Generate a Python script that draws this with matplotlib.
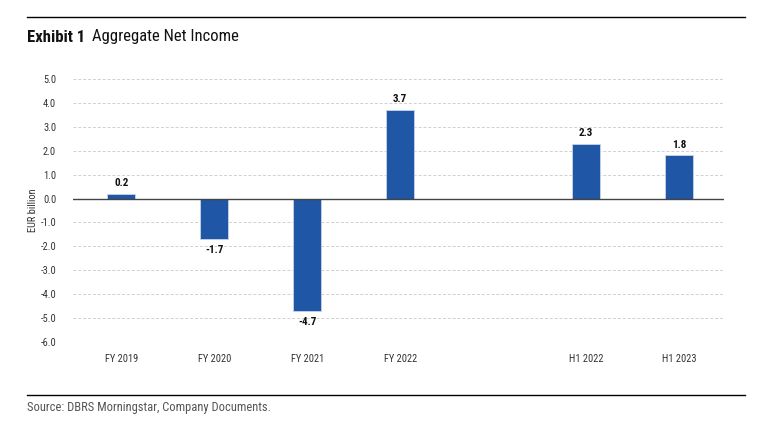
import matplotlib.pyplot as plt
from matplotlib import font_manager
import numpy as np

categories = ['FY 2019', 'FY 2020', 'FY 2021', 'FY 2022', '', 'H1 2022', 'H1 2023']
values = [0.2, -1.7, -4.7, 3.7, None, 2.3, 1.8]
value_labels = ['0.2', '-1.7', '-4.7', '3.7', '', '2.3', '1.8']
yticks = [5.0, 4.0, 3.0, 2.0, 1.0, 0.0, -1.0, -2.0, -3.0, -4.0, -5.0, -6.0]

# narrow font if there is one, else Liberation Sans
names = {f.name for f in font_manager.fontManager.ttflist}
narrow = [n for n in ['Liberation Sans Narrow', 'Roboto Condensed', 'Open Sans Condensed'] if n in names]
main_font = narrow[0] if narrow else 'Liberation Sans'
plt.rcParams['font.family'] = [main_font, 'DejaVu Sans']
scale = 1.0 if narrow else 0.9

fig = plt.figure(figsize=(7.75, 4.44), dpi=100)
ax = fig.add_axes([0.094, 0.23, 0.84, 0.592])

x = np.arange(len(categories))
bar_color = '#1f56a6'
for xi, v, lab in zip(x, values, value_labels):
    if v is None:
        continue
    ax.bar(xi, v, width=0.3, color=bar_color, edgecolor='#c8d4e6', linewidth=0.6, zorder=3)
    if v >= 0:
        ax.text(xi, v + 0.25, lab, ha='center', va='bottom', fontsize=8 * scale, fontweight='bold', color='#111111')
    else:
        ax.text(xi, v - 0.25, lab, ha='center', va='top', fontsize=8 * scale, fontweight='bold', color='#111111')

ax.set_xlim(-0.52, 6.48)
ax.set_ylim(-6, 5)
ax.set_yticks(yticks)
ax.set_yticklabels([f'{t:.1f}' for t in yticks])
ax.set_xticks([i for i, c in enumerate(categories) if c])
ax.set_xticklabels([c for c in categories if c])
ax.tick_params(axis='both', length=0, labelsize=7.5 * scale, colors='#333333')
ax.tick_params(axis='x', pad=9)
ax.tick_params(axis='y', pad=12)
ax.grid(axis='y', linestyle=(0, (3, 2)), color='#d0d0d0', linewidth=0.7, zorder=0)
ax.axhline(0, color='#444444', linewidth=1.0, zorder=4)
for s in ax.spines.values():
    s.set_visible(False)
ax.set_ylabel('EUR billion', fontsize=7.5 * scale, color='#333333', labelpad=2)

# header and footer rules
fig.add_artist(plt.Line2D([27 / 775, 745 / 775], [1 - 17 / 444, 1 - 17 / 444], color='black', linewidth=1.0))
fig.add_artist(plt.Line2D([27 / 775, 745 / 775], [1 - 395 / 444, 1 - 395 / 444], color='black', linewidth=1.0))

t1 = fig.text(27 / 775, 1 - 37 / 444, 'Exhibit 1', fontsize=12 * scale, fontweight='bold', va='center', ha='left', color='#111111')
fig.canvas.draw()
bb = t1.get_window_extent()
fig.text((bb.x1 + 7) / 775, 1 - 37 / 444, 'Aggregate Net Income', fontsize=12 * scale, va='center', ha='left', color='#111111')
fig.text(27 / 775, 1 - 407 / 444, 'Source: DBRS Morningstar, Company Documents.', fontsize=9 * scale, va='center', ha='left', color='#555555')

fig.savefig('out.png', dpi=100)
